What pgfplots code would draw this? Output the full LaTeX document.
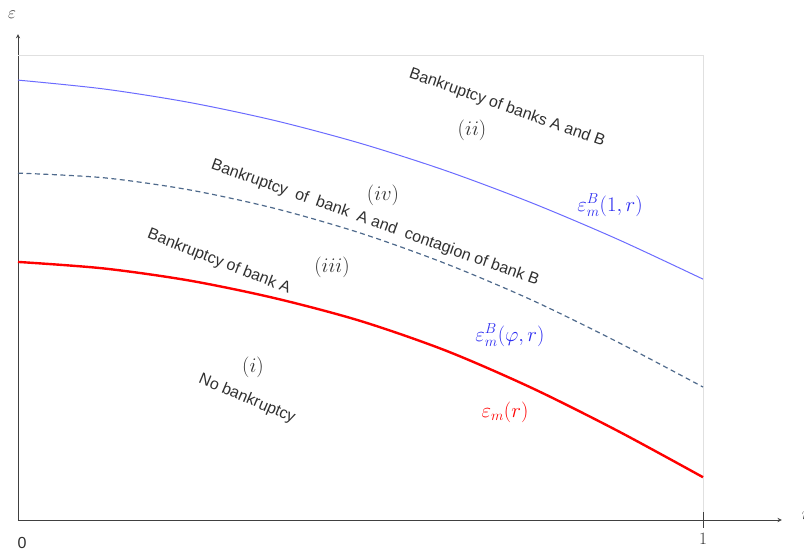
\documentclass[border=0pt]{standalone}
\usepackage{pgfplots}
\pgfplotsset{compat=1.18}
\usepackage{fontspec}
\setmainfont{Liberation Sans}
\definecolor{lineblue}{HTML}{6B6BFF}
\definecolor{dashblue}{HTML}{4F6A8C}
\definecolor{labblue}{HTML}{2A2AF0}
\definecolor{txt}{HTML}{303030}
\begin{document}
\begin{tikzpicture}
\begin{axis}[x=685pt, y=465pt, anchor=origin, at={(0pt,0pt)},
  axis lines=middle, xmin=0, xmax=1.115, ymin=0, ymax=1.045,
  axis line style={black!75, line width=0.9pt, -stealth},
  xtick={1}, ytick=\empty,
  xticklabel style={font=\fontsize{16}{18}\selectfont, text=txt, yshift=-8pt},
  clip=false]
  % light frame at r=1 and top
  \draw[black!12, line width=0.8pt] (axis cs:0,1) -- (axis cs:1,1) -- (axis cs:1,0);
  \draw[black!75, line width=0.9pt] (axis cs:1,0) ++(0,-8pt) -- ++(0,16pt);
  \addplot[lineblue, line width=1pt, smooth] coordinates {(0,0.946) (0.125,0.927) (0.25,0.898) (0.375,0.859) (0.5,0.810) (0.625,0.751) (0.75,0.682) (0.875,0.604) (1,0.518)};
  \addplot[dashblue, line width=1.2pt, dash pattern=on 5pt off 3.5pt, smooth] coordinates {(0,0.746) (0.125,0.736) (0.25,0.710) (0.375,0.670) (0.5,0.617) (0.625,0.551) (0.75,0.473) (0.875,0.383) (1,0.286)};
  \addplot[red, line width=2.4pt, smooth] coordinates {(0,0.555) (0.125,0.541) (0.25,0.515) (0.375,0.477) (0.5,0.428) (0.625,0.364) (0.75,0.284) (0.875,0.192) (1,0.092)};
\end{axis}
\begin{scope}[every node/.style={text=txt, font=\fontsize{16}{18}\selectfont, inner sep=0pt}]
  \node[rotate=-19.5] at (489pt,412pt) {Bankruptcy of banks A and B};
  \node[rotate=-19.7] at (357pt,297pt) {Bankruptcy\ \ of\ \ bank\ \ A and\ \ contagion of bank B};
  \node[rotate=-21.5] at (201pt,258pt) {Bankruptcy of bank A};
  \node[rotate=-23] at (229pt,121pt) {No bankruptcy};
  \node[font=\fontsize{20}{22}\selectfont] at (454pt,390pt) {$(ii)$};
  \node[font=\fontsize{20}{22}\selectfont] at (365pt,325pt) {$(iv)$};
  \node[font=\fontsize{20}{22}\selectfont] at (314pt,253pt) {$(iii)$};
  \node[font=\fontsize{20}{22}\selectfont] at (235pt,153pt) {$(i)$};
  \node[font=\fontsize{20}{22}\selectfont, text=labblue] at (592pt,315pt) {$\varepsilon_m^B(1,r)$};
  \node[font=\fontsize{20}{22}\selectfont, text=labblue] at (492pt,185pt) {$\varepsilon_m^B(\varphi,r)$};
  \node[font=\fontsize{20}{22}\selectfont, text=red] at (487pt,108pt) {$\varepsilon_m(r)$};
  \node[font=\fontsize{17}{18}\selectfont] at (-6pt,505pt) {$\varepsilon$};
  \node[font=\fontsize{17}{18}\selectfont] at (788pt,4pt) {$r$};
  \node at (4pt,-23pt) {0};
\end{scope}
\pgfresetboundingbox
\useasboundingbox (-18pt,-34pt) rectangle (786pt,520pt);
\end{tikzpicture}
\end{document}
